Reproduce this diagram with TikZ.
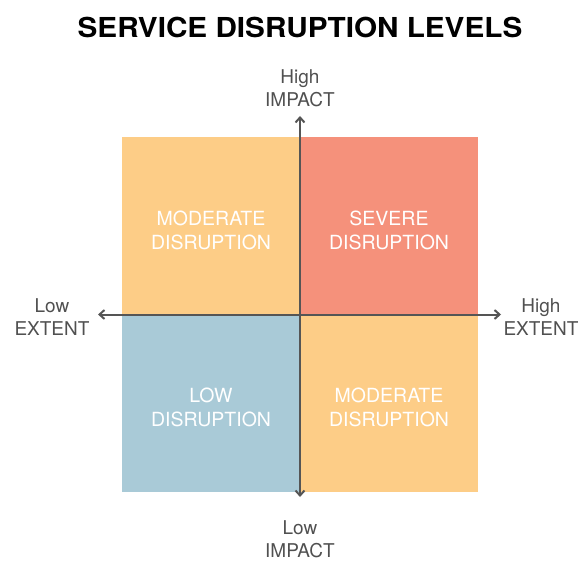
\documentclass[tikz,border=0pt]{standalone}
\usepackage{fontspec}
\setmainfont{TeX Gyre Heros}
\newfontfamily\titlefont[FakeStretch=1.08]{TeX Gyre Heros}
\usetikzlibrary{arrows.meta}
\definecolor{qorange}{HTML}{FDCD87}
\definecolor{qred}{HTML}{F5917B}
\definecolor{qblue}{HTML}{A9CAD7}
\definecolor{axisgray}{HTML}{555555}
\definecolor{labgray}{HTML}{505050}
\tikzset{
  quad/.style={draw=none, minimum width=178pt, minimum height=177.5pt, inner sep=0pt, outer sep=0pt},
  qtext/.style={text=white, font=\fontsize{19.5}{24}\selectfont, align=center},
  axlab/.style={text=labgray, font=\fontsize{19}{23.5}\selectfont, align=center},
  axisline/.style={draw=axisgray, line width=2pt, -{Straight Barb[length=5pt,width=9pt]}}
}
\begin{document}
\begin{tikzpicture}[x=1pt,y=-1pt]
\useasboundingbox (0,0) rectangle (586,561);
\node[quad, fill=qorange, anchor=south east] (tl) at (300,314.5) {};
\node[quad, fill=qred, anchor=south west] (tr) at (300,314.5) {};
\node[quad, fill=qblue, anchor=north east] (bl) at (300,314.5) {};
\node[quad, fill=qorange, anchor=north west] (br) at (300,314.5) {};
\node[qtext] (tlt) at (211,230.5) {MODERATE\\DISRUPTION};
\node[qtext] (trt) at (389,230.5) {SEVERE\\DISRUPTION};
\node[qtext] (blt) at (211,407.5) {LOW\\DISRUPTION};
\node[qtext] (brt) at (389,407.5) {MODERATE\\DISRUPTION};
\coordinate (c) at (300,314.5);
\coordinate (xl) at (98,314.5);
\coordinate (xr) at (501,314.5);
\coordinate (yt) at (300,116);
\coordinate (yb) at (300,497);
\draw[axisline] (c) -- (xl);
\draw[axisline] (c) -- (xr);
\draw[axisline] (c) -- (yt);
\draw[axisline] (c) -- (yb);
\node[axlab] (hi) at (300,88) {High\\IMPACT};
\node[axlab, font=\fontsize{19}{22.5}\selectfont] (li) at (300,539) {Low\\IMPACT};
\node[axlab] (le) at (52,317) {Low\\EXTENT};
\node[axlab] (he) at (541,317) {High\\EXTENT};
\node[font=\fontsize{27.5}{33}\selectfont\titlefont\bfseries] (title) at (300,27) {SERVICE DISRUPTION LEVELS};
\end{tikzpicture}
\end{document}
